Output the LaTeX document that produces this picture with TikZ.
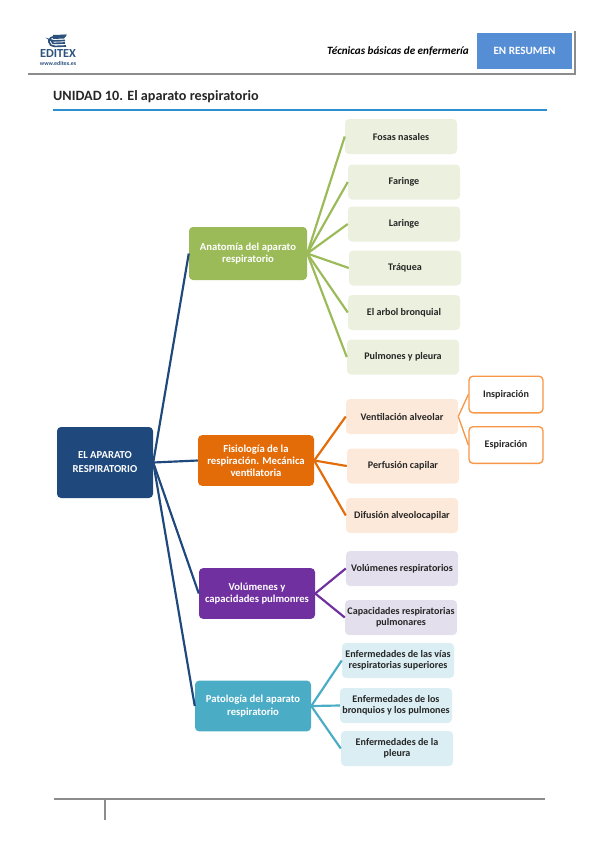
\documentclass[tikz,border=0pt]{standalone}
\usepackage{fontspec}
\setmainfont{Carlito}
\definecolor{rootblue}{HTML}{1F497D}
\definecolor{anagreen}{HTML}{9BBB59}
\definecolor{analight}{HTML}{EBF1DE}
\definecolor{fisorange}{HTML}{E36C09}
\definecolor{fislight}{HTML}{FDE9D9}
\definecolor{subborder}{HTML}{F79646}
\definecolor{volpurple}{HTML}{7030A0}
\definecolor{vollight}{HTML}{E4DFEC}
\definecolor{pattea}{HTML}{4BACC6}
\definecolor{patlight}{HTML}{DAEEF3}
\definecolor{tabblue}{HTML}{558ED5}
\definecolor{rulegray}{HTML}{8C8C8C}
\definecolor{titleline}{HTML}{2E8FD0}

\begin{document}
\begin{tikzpicture}[
    x=0.3mm, y=-0.3mm,
    box/.style={rectangle, rounded corners=1.2mm, align=center, inner sep=0pt,
                font=\fontsize{8.6}{9.6}\selectfont\bfseries},
    leaf/.style={box, minimum width=33.6mm, minimum height=10.5mm, text=black!85},
    branch/.style={box, minimum width=34.8mm, minimum height=15.2mm, text=white,
                   font=\fontsize{9.1}{10.4}\selectfont\bfseries},
    subleaf/.style={box, draw=subborder, line width=0.4mm, fill=white, text=black!85,
                    minimum width=22.2mm, minimum height=11mm},
    link/.style={line width=0.65mm}
]
\useasboundingbox (0,0) rectangle (599,848);

% Header
\draw[rulegray, line width=0.7mm] (28,74) -- (575,74) -- (575,31);
\node[rectangle, fill=tabblue, minimum width=28.5mm, minimum height=10.8mm, inner sep=0pt,
      text=white, font=\fontsize{9.5}{11}\selectfont\bfseries] (tab) at (524.5,51) {EN RESUMEN};
\node[left, font=\fontsize{9.5}{11}\selectfont\bfseries\itshape, inner sep=0pt] (book) at (469,51) {Técnicas básicas de enfermería};
\node[font=\fontsize{10.5}{11}\selectfont\bfseries, text=rootblue!85!gray, inner sep=0pt] (logo) at (58,53.5) {EDITEX};
\node[font=\fontsize{5}{6}\selectfont\bfseries, text=rootblue!85!gray, inner sep=0pt] (web) at (58,63.5) {www.editex.es};
\draw[rootblue!85!gray, line width=0.5mm, rounded corners=0.6mm]
    (66,35.5) -- (53,36.5) -- (49,39) -- (52,41) -- (65,40.5)
    (49,39) -- (49,44) -- (53,46.5) -- (66,46)
    (52,41) -- (52,43.5) -- (65,43);
\fill[rootblue!85!gray] (53,35) -- (67,34.5) -- (64,38.5) -- (53,39) -- cycle;

% Title
\node[right, font=\fontsize{12.1}{14}\selectfont\bfseries, inner sep=0pt, text=black!85] (title) at (53,97) {UNIDAD 10. El aparato respiratorio};
\draw[titleline, line width=0.35mm] (53,110) -- (547,110);

% Root
\node[box, fill=rootblue, text=white, minimum width=28.8mm, minimum height=21.3mm,
      font=\fontsize{9.1}{12}\selectfont\bfseries] (root) at (105,462.5) {EL APARATO\\RESPIRATORIO};

% Anatomia
\node[branch, fill=anagreen, minimum width=35.4mm, minimum height=15.9mm] (ana) at (248,253.5) {Anatomía del aparato\\respiratorio};
\node[leaf, fill=analight] (fosas) at (401,136.5) {Fosas nasales};
\node[leaf, fill=analight] (faringe) at (404,182) {Faringe};
\node[leaf, fill=analight] (laringe) at (404,224) {Laringe};
\node[leaf, fill=analight] (traquea) at (405,268) {Tráquea};
\node[leaf, fill=analight] (arbol) at (404,312.5) {El arbol bronquial};
\node[leaf, fill=analight] (pulmones) at (403,357) {Pulmones y pleura};
\draw[link, anagreen] (ana.east) -- (fosas.west);
\draw[link, anagreen] (ana.east) -- (faringe.west);
\draw[link, anagreen] (ana.east) -- (laringe.west);
\draw[link, anagreen] (ana.east) -- (traquea.west);
\draw[link, anagreen] (ana.east) -- (arbol.west);
\draw[link, anagreen] (ana.east) -- (pulmones.west);

% Fisiologia
\node[branch, fill=fisorange] (fis) at (256,460.5) {Fisiología de la\\respiración. Mecánica\\ventilatoria};
\node[leaf, fill=fislight] (vent) at (402,416.5) {Ventilación alveolar};
\node[leaf, fill=fislight] (perf) at (403,466) {Perfusión capilar};
\node[leaf, fill=fislight] (difu) at (402,515.5) {Difusión alveolocapilar};
\node[subleaf] (insp) at (506,394.5) {Inspiración};
\node[subleaf] (espi) at (506,445) {Espiración};
\draw[link, fisorange] (fis.east) -- (vent.west);
\draw[link, fisorange] (fis.east) -- (perf.west);
\draw[link, fisorange] (fis.east) -- (difu.west);
\draw[line width=0.4mm, subborder] (vent.east) -- (insp.west);
\draw[line width=0.4mm, subborder] (vent.east) -- (espi.west);

% Volumenes
\node[branch, fill=volpurple] (vol) at (257,593.5) {Volúmenes y\\capacidades pulmonres};
\node[leaf, fill=vollight] (volres) at (402,568.5) {Volúmenes respiratorios};
\node[leaf, fill=vollight] (capres) at (401,617.5) {Capacidades respiratorias\\pulmonares};
\draw[link, volpurple] (vol.east) -- (volres.west);
\draw[link, volpurple] (vol.east) -- (capres.west);

% Patologia
\node[branch, fill=pattea] (pat) at (253,706) {Patología del aparato\\respiratorio};
\node[leaf, fill=patlight] (vias) at (398,660.5) {Enfermedades de las vías\\respiratorias superiores};
\node[leaf, fill=patlight] (bronq) at (396,705.5) {Enfermedades de los\\bronquios y los pulmones};
\node[leaf, fill=patlight] (pleura) at (397,748.5) {Enfermedades de la\\pleura};
\draw[link, pattea] (pat.east) -- (vias.west);
\draw[link, pattea] (pat.east) -- (bronq.west);
\draw[link, pattea] (pat.east) -- (pleura.west);

% Root links
\draw[link, rootblue] (root.east) -- (ana.west);
\draw[link, rootblue] (root.east) -- (fis.west);
\draw[link, rootblue] (root.east) -- (vol.west);
\draw[link, rootblue] (root.east) -- (pat.west);

% Footer
\draw[rulegray, line width=0.5mm] (54,799) -- (545,799);
\draw[rulegray, line width=0.5mm] (105,799) -- (105,820);
\end{tikzpicture}
\end{document}
